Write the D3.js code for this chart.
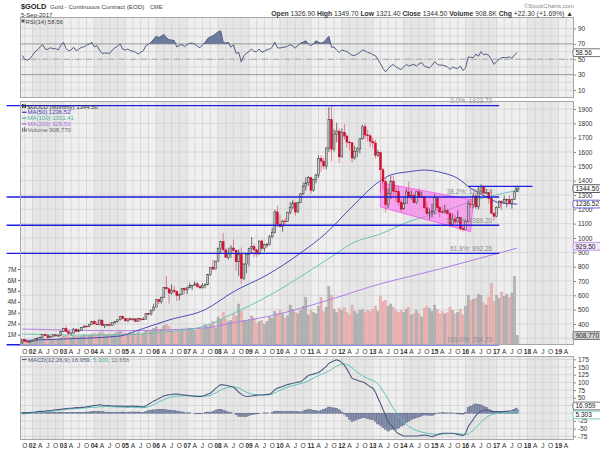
<!DOCTYPE html>
<html><head><meta charset="utf-8">
<script src="https://cdn.jsdelivr.net/npm/d3@7/dist/d3.min.js"></script>
<style>
body{margin:0;background:#fff}
svg{display:block;font-family:"Liberation Sans",Arial,sans-serif}
</style></head><body>
<svg id="chart" width="600" height="450"></svg>
<script>
// ---------------- DATA (monthly, Sep 2001 .. Sep 2017) ----------------
const firstMonth = "2001-09";
const opens = [274,293,279,275,
279,282,296,302,308,326,318,304,312,324,317,319,
348,368,347,335,337,364,346,354,375,385,384,398,
417,400,397,427,388,395,395,391,409,418,429,453,
438,422,436,429,436,417,437,430,434,473,470,496,
518,569,556,585,654,645,616,634,626,599,606,648,
638,652,669,669,680,660,652,668,673,747,795,783,
838,928,975,917,865,889,930,913,834,884,718,818,
884,928,942,917,888,979,927,955,955,1008,1040,1182,
1097,1081,1118,1115,1180,1212,1245,1181,1248,1308,1359,1385,
1421,1333,1410,1439,1556,1536,1502,1628,1825,1620,1725,1746,
1566,1738,1711,1669,1664,1558,1604,1622,1692,1776,1719,1713,
1675,1663,1578,1596,1476,1393,1234,1312,1396,1327,1323,1250,
1202,1240,1321,1284,1295,1246,1322,1282,1287,1210,1171,1175,
1184,1279,1212,1183,1182,1190,1172,1095,1132,1115,1142,1065,
1061,1116,1238,1234,1293,1217,1322,1357,1313,1316,1276,1173,
1152,1212,1253,1249,1268,1268,1242,1270,1322];
const highs = [294,294,285,281,
284,302,305,310,328,331,321,318,326,325,322,349,
373,390,352,343,373,368,367,378,391,391,400,418,
428,418,432,430,396,398,410,412,420,431,456,457,
441,438,447,438,437,444,438,449,476,478,499,541,
571,574,590,658,732,654,677,665,634,614,651,654,
660,689,672,697,693,672,685,683,749,795,848,842,
934,978,1033,929,932,950,990,919,920,934,825,890,
932,1007,962,925,982,990,961,966,1022,1070,1196,1227,
1163,1127,1139,1181,1249,1266,1246,1253,1314,1388,1424,1432,
1424,1413,1448,1576,1577,1561,1632,1912,1923.7,1761,1804,1764,
1764,1792,1724,1677,1668,1642,1633,1696,1790,1798,1755,1726,
1698,1685,1616,1604,1488,1424,1348,1434,1434,1362,1362,1267,
1280,1346,1392,1332,1315,1327,1345,1323,1288,1255,1205,1239,
1307,1283,1224,1224,1232,1205,1175,1170,1159,1192,1145,1088,
1128,1263,1287,1306,1305,1362,1375,1367,1345,1320,1338,1181,
1220,1264,1264,1297,1274,1297,1274,1331,1349.7];
const lows = [254.7,277,272,271,
277,280,288,299,306,316,302,302,311,311,315,316,
347,343,324,319,334,342,342,353,371,370,378,396,
400,392,392,386,371,384,387,390,398,410,424,432,
416,411,425,422,414,414,418,430,433,461,459,489,
517,539,541,585,640,543,605,613,560,566,604,612,
608,650,636,669,653,642,648,648,672,735,779,783,
837,888,906,860,850,860,905,772,735,681,705,752,
802,895,865,866,884,911,904,933,948,1000,1033,1075,
1075,1044,1086,1113,1163,1201,1157,1176,1243,1300,1330,1362,
1308,1323,1381,1419,1462,1478,1478,1600,1535,1603,1668,1523,
1562,1687,1627,1611,1527,1547,1564,1590,1687,1692,1673,1635,
1626,1555,1565,1321,1338,1180,1208,1271,1292,1251,1227,1180,
1202,1238,1277,1269,1241,1240,1281,1280,1205,1161,1131,1142,
1167,1190,1142,1170,1170,1162,1077,1084,1098,1106,1052,1046,
1061,1110,1209,1207,1200,1200,1310,1306,1306,1241,1171,1122,
1146,1208,1195,1246,1214,1236,1204,1268,1321.4];
const closes = [293,279,275,279,
282,296,302,308,326,318,304,312,324,317,319,348,
368,347,335,337,364,346,354,375,385,384,398,417,
400,397,427,388,395,395,391,409,418,429,453,438,
422,436,429,436,417,437,430,434,473,470,496,518,
569,556,585,654,645,616,634,626,599,606,648,638,
652,669,669,680,660,652,668,673,747,795,783,838,
928,975,917,865,889,930,913,834,884,718,818,884,
928,942,917,888,979,927,955,955,1008,1040,1182,1097,
1081,1118,1115,1180,1212,1245,1181,1248,1308,1359,1385,1421,
1333,1410,1439,1556,1536,1502,1628,1825,1620,1725,1746,1566,
1738,1711,1669,1664,1558,1604,1622,1692,1776,1719,1713,1675,
1663,1578,1596,1476,1393,1234,1312,1396,1327,1323,1250,1202,
1240,1321,1284,1295,1246,1322,1282,1287,1210,1171,1175,1184,
1279,1212,1183,1182,1190,1172,1095,1132,1115,1142,1065,1061,
1116,1238,1234,1293,1217,1322,1357,1313,1316,1276,1173,1152,
1212,1253,1249,1268,1268,1242,1270,1322,1344.5];
// volume in millions
const volumes = [0.45,0.40,0.38,0.35,
0.45,0.55,0.50,0.55,0.70,0.60,0.65,0.55,0.60,0.50,0.55,0.70,
0.85,0.95,0.80,0.75,0.90,0.85,0.80,0.85,1.00,0.95,0.90,1.05,
1.10,1.00,1.15,1.25,1.00,0.95,1.05,1.00,1.10,1.20,1.30,1.15,
1.10,1.05,1.20,1.15,1.10,1.25,1.05,1.15,1.40,1.30,1.35,1.55,
1.70,1.45,1.50,1.80,1.95,1.75,1.40,1.30,1.45,1.25,1.50,1.35,
1.45,1.60,1.50,1.40,1.55,1.65,1.50,1.90,1.70,1.85,2.20,1.60,
2.60,2.40,3.00,2.40,2.20,2.30,2.90,2.70,3.80,3.10,2.30,2.20,
2.40,2.70,2.50,2.00,2.20,2.30,1.90,2.20,2.60,2.50,3.10,2.90,
3.20,2.90,2.50,2.70,3.70,3.30,3.00,2.90,3.20,3.60,4.40,2.80,
3.20,3.00,2.90,3.60,4.40,3.10,3.50,5.40,4.60,3.30,3.00,3.40,
3.20,3.50,3.00,2.80,3.70,3.10,2.90,3.20,3.30,3.00,3.20,3.10,
3.30,3.60,3.10,4.50,4.00,4.10,3.60,3.80,3.50,3.20,3.00,3.20,
3.00,3.30,3.50,2.80,2.90,3.20,2.90,2.60,3.40,3.60,3.40,3.10,
3.70,3.30,2.90,3.10,2.90,3.00,3.50,3.20,2.90,3.00,3.30,2.80,
3.60,4.60,4.10,4.20,4.30,4.70,4.60,3.90,3.70,4.40,5.70,4.00,
4.60,4.30,4.90,4.50,4.70,4.40,4.80,6.30,0.91];
const rsi = [55,50,48.7,50.5,
55,60,62,66,69,63,63,65,63.5,64,62,68,
72,64,61,62,65.6,61,63,65.6,66,68.5,69.5,72,
66,68,62,57.6,58,58,57.6,62,65,67,70,63,
62,63.3,61,60.5,59,56.7,59,61,67.8,69.5,72,76,
80,78,80,82.4,78,75.3,75,74.4,66,68,69,66.4,
69,70.9,70.9,69.5,67,65,68.7,72,77,79,80.5,83,
85.6,86.9,72,71,72,65.6,69,57.6,58.9,46.4,54.4,58,
60.2,63.3,60,60,63.3,59,60.5,62.5,63.3,65.6,72.2,65,
64.5,65.6,65.6,67,69,67,64.7,68,70.9,72.2,74,70,
67.8,70,74,72,70.9,72.2,76,79.8,65.6,66,62,58.9,
62,61,60,57.6,55,55,56.7,58.9,62,61,58.9,58,
56,54.4,50,44.2,38,33.6,38,41.1,43.3,40,38,36.7,
40,43.3,41.1,42.5,43.3,41.1,44,45.6,41.1,39.8,38.9,42,
46.9,43.5,42.4,42.4,41.5,40,36.7,39.8,38.5,38,41.1,35.3,
38.9,53.1,52.5,52.2,56.7,54,59.8,55.8,56.7,55,50,43.3,
47,50,52.2,52.2,52.2,53.1,51.1,55.8,58.56];
const macd = [0,1,1,2,
3,4,5,6,6,7,8,9,10,11,12,13,
14,15,16,16,17,18,18,19,19,21,22,24,
25,26,27,26,25,25,24,24,23,23,23,23,
22,22,23,23,22,22,21,21,24,29,34,39,
43,48,52,56,58,60,61,62,62,61,60,59,
58,57,56,55,54,54,55,58,62,65,72,80,
87,92,92,91,89,87,84,77,68,62,57,54,
55,56,57,58,59,59,60,61,62,68,76,81,
84,87,90,93,95,97,99,101,102,108,115,122,
125,127,130,132,138,145,152,162,166,170,173,170,
164,155,143,128,113,110,107,104,102,98,92,86,
81,68,50,32,12,-8,-28,-38,-47,-60,-66,-70,
-74,-74,-74,-74,-74,-74,-73,-72,-71,-72,-74,-76,
-73,-70,-67,-65,-65,-65,-65,-65,-67,-69,-71,-72,
-65,-44,-32,-20,-8,0,6,9,10,8,6,5,
5,5,5,6,6,7,8,12,16.959];
const signal = [-3,-2,-1,0,
1,2,3,3,4,4,5,6,7,8,9,10,
11,12,13,14,14,15,16,16,17,17,18,19,
19,20,21,21,21,22,22,21,21,20,20,19,
19,19,19,19,18,18,18,18,19,21,24,28,
32,36,40,44,47,50,53,54,55,56,56,57,
57,56,56,56,56,56,56,56,56,58,62,66,
70,75,79,82,84,85,85,84,82,78,73,68,
65,62,61,60,60,60,59,59,60,62,66,70,
74,78,82,85,87,89,92,94,96,98,101,105,
110,114,118,122,126,129,133,137,142,148,153,157,
159,160,158,154,148,140,133,127,122,117,113,110,
106,102,95,85,72,59,45,30,15,5,-8,-18,
-28,-36,-43,-48,-53,-56,-59,-61,-63,-65,-66,-67,
-68,-69,-69,-68,-67,-66,-66,-66,-66,-66,-67,-68,
-69,-68,-62,-55,-47,-38,-29,-21,-14,-9,-5,-3,
-1,0,1,2,2,3,3,4,4,5.303];
const histogram = [3,3,2,2,
2,2,2,3,2,3,3,3,3,3,3,3,
3,3,3,2,3,3,2,3,2,4,4,5,
6,6,6,5,4,3,2,3,2,3,3,4,
3,3,4,4,4,4,3,3,5,8,10,11,
11,12,12,12,11,10,8,8,7,5,4,2,
1,1,0,-1,-2,-2,-1,2,4,3,6,10,
12,13,10,7,4,2,0,-5,-10,-11,-11,-11,
-7,-5,-3,-2,-1,0,1,1,0,2,6,7,
6,5,5,6,6,5,5,5,4,7,10,12,
11,9,8,6,9,12,15,20,18,17,16,11,
4,-3,-11,-20,-27,-23,-20,-18,-15,-15,-18,-20,
-21,-27,-35,-40,-47,-53,-58,-53,-52,-52,-48,-42,
-38,-31,-26,-21,-18,-15,-12,-9,-6,-6,-7,-8,
-4,-1,1,2,1,1,1,1,-1,-2,-3,-3,
3,18,23,27,30,29,27,23,19,13,9,6,
5,4,3,4,3,4,4,8,11.656];
// moving averages read at sample months
const ma50Dates = ["2001-09","2003-01","2004-11","2005-05","2006-06","2007-08","2008-07","2009-08","2010-09","2011-07","2012-05","2013-04","2013-08","2014-03","2014-09","2015-04","2015-10","2016-03","2016-09","2017-02","2017-09"];
const ma50Vals  = [285,295,316,350,428,500,625,742,895,1035,1218,1400,1440,1462,1474,1455,1416,1347,1288,1246,1236.52];
const ma100Dates = ["2001-09","2003-09","2005-03","2006-05","2007-08","2008-07","2009-08","2010-09","2011-10","2012-05","2013-04","2014-03","2015-04","2016-05","2017-09"];
const ma100Vals  = [330,322,326,345,385,474,590,730,881,963,1028,1114,1184,1265,1331.41];
const ma200Dates = ["2001-09","2004-11","2007-08","2008-07","2009-08","2010-09","2011-10","2013-04","2014-03","2015-04","2016-05","2017-09"];
const ma200Vals  = [365,353,372,409,451,509,579,680,730,788,851,929.5];
// Fibonacci retracement levels (drawn Mar 2001 .. Feb 2017)
const fibPct = ["0.0%","38.2%","50.0%","61.8%","100.0%"];
const fibVals = [1923.70,1286.14,1089.20,892.26,254.70];
const fibRange = ["2001-03","2017-02"];
// resistance line and channel annotation
const resistRange = ["2016-02","2018-03"]; const resistVal = 1360;
const channelDates = ["2013-04","2016-04","2016-03","2013-04"];
const channelVals = [1386,1265,1044,1216];
// axes (labels hidden behind the value boxes are left out)
const priceTicks = d3.range(300,2000,100);
const priceLabels = d3.range(400,2000,100);
const volTicks = [1,2,3,4,5,6,7];
const rsiTicks = [10,30,50,70,90];
const macdTicks = [-75,-50,-25,0,25,50,75,100,125,150,175];
const macdLabels = [-75,-50,-25,50,75,100,125,150,175];

// ---------------- DRAWING ----------------
const svg = d3.select("#chart");
const L = 20, R = 574;
const P = {rsi:{t:17,b:98}, main:{t:101,b:345}, macd:{t:356,b:440}};
const parse = d3.timeParse("%Y-%m");
const m0 = parse(firstMonth);
const N = Math.min(opens.length, highs.length, lows.length, closes.length, volumes.length);
const dates = d3.range(N).map(i => d3.timeMonth.offset(m0, i));
const x = d3.scaleTime().domain([new Date(2002,0,1), new Date(2019,0,1)]).range([32.5, 558.4]);
const yP = d3.scaleLinear().domain([300,1900]).range([338.3,109]);
const yV = d3.scaleLinear().domain([0,7]).range([345.5,269]);
const yR = d3.scaleLinear().domain([10,90]).range([90,28.5]);
const yM = d3.scaleLinear().domain([-75,175]).range([436.3,359.3]);

const defs = svg.append("defs");
Object.entries(P).forEach(([k,p]) => {
  defs.append("clipPath").attr("id","clip-"+k).append("rect")
    .attr("x",L).attr("y",p.t).attr("width",R-L).attr("height",p.b-p.t);
});

const qTicks = d3.timeMonth.range(new Date(2001,9,1), new Date(2019,4,2), 3);
const bandYears = d3.range(2001, 2020);

function panelBase(k){
  const p = P[k];
  const g = svg.append("g").attr("clip-path",`url(#clip-${k})`);
  g.append("rect").attr("x",L).attr("y",p.t).attr("width",R-L).attr("height",p.b-p.t).attr("fill","#efefef");
  g.selectAll("rect.band").data(bandYears.filter(y => y%2===0)).join("rect")
    .attr("x", y => x(new Date(y,0,1))).attr("width", y => x(new Date(y+1,0,1)) - x(new Date(y,0,1)))
    .attr("y",p.t).attr("height",p.b-p.t).attr("fill","#e6e6e6");
  g.selectAll("line.v").data(qTicks).join("line")
    .attr("x1",d=>x(d)).attr("x2",d=>x(d)).attr("y1",p.t).attr("y2",p.b)
    .attr("stroke","#d2d2d2").attr("stroke-width",0.8);
  return g;
}
function panelBorder(k){
  const p = P[k];
  svg.append("rect").attr("x",L+0.5).attr("y",p.t+0.5).attr("width",R-L-1).attr("height",p.b-p.t-1)
    .attr("fill","none").attr("stroke","#a8a8a8").attr("stroke-width",1);
}
function hgrid(g, ticks, scale){
  g.selectAll(null).data(ticks).join("line")
    .attr("x1",L).attr("x2",R).attr("y1",d=>scale(d)).attr("y2",d=>scale(d))
    .attr("stroke","#d2d2d2").attr("stroke-width",0.8);
}
function rightAxis(scale, ticks, labels){
  const a = svg.append("g").attr("transform",`translate(${R},0)`)
    .call(d3.axisRight(scale).tickValues(ticks).tickFormat(d => labels.includes(d) ? d : "").tickSize(2).tickPadding(2));
  a.select(".domain").remove();
  a.selectAll("line").attr("stroke","#888");
  a.selectAll("text").attr("font-size",6.5).attr("fill","#333").attr("font-family","Liberation Sans, Arial, sans-serif");
}
function valueBox(yv, txt, stroke, fill, color){
  const g = svg.append("g");
  g.append("rect").attr("x",R-1).attr("y",yv-3.9).attr("width",28).attr("height",7.8).attr("rx",2)
    .attr("fill",fill).attr("stroke",stroke).attr("stroke-width",0.8);
  g.append("text").attr("x",R+1.5).attr("y",yv+2.3).attr("font-size",6.5).attr("fill",color).text(txt);
}

// ---------- RSI panel ----------
{
  const g = panelBase("rsi");
  g.selectAll(null).data(d3.range(10,100,10)).join("line")
    .attr("x1",L).attr("x2",R).attr("y1",d=>yR(d)).attr("y2",d=>yR(d))
    .attr("stroke",d => (d===70||d===30) ? "#9a9a9a" : "#d2d2d2")
    .attr("stroke-width",d => (d===70||d===30) ? 1 : 0.8);
  g.append("line").attr("x1",L).attr("x2",R).attr("y1",yR(50)).attr("y2",yR(50))
    .attr("stroke","#9a9a9a").attr("stroke-dasharray","6,2,1,2").attr("stroke-width",0.8);
  const rd = d3.range(Math.min(N, rsi.length)).map(i => ({d:dates[i], v:rsi[i]}));
  defs.append("clipPath").attr("id","above70").append("rect")
    .attr("x",L).attr("y",P.rsi.t).attr("width",R-L).attr("height",yR(70)-P.rsi.t);
  g.append("path").datum(rd).attr("clip-path","url(#above70)")
    .attr("d", d3.area().x(d=>x(d.d)).y0(yR(70)).y1(d=>yR(d.v)))
    .attr("fill","#6d7b9c");
  g.append("path").datum(rd).attr("d", d3.line().x(d=>x(d.d)).y(d=>yR(d.v)))
    .attr("fill","none").attr("stroke","#4f5d82").attr("stroke-width",1);
  panelBorder("rsi");
  rightAxis(yR, rsiTicks, rsiTicks);
  valueBox(yR(rsi[rsi.length-1]), "58.56", "#555", "#fff", "#222");
  const lg = svg.append("g").attr("font-size",6).attr("fill","#444");
  lg.append("rect").attr("x",21.5).attr("y",19.5).attr("width",3).attr("height",3).attr("fill","#4f5d82");
  lg.append("text").attr("x",25.5).attr("y",23.5).text("RSI(14) 58.56");
}

// ---------- Main panel ----------
{
  const g = panelBase("main");
  hgrid(g, priceTicks, yP);
  const vd = d3.range(N).map(i => ({d:dates[i], v:volumes[i], up: i===0 ? true : closes[i] >= closes[i-1]}));
  g.selectAll("rect.vol").data(vd).join("rect")
    .attr("x",d=>x(d.d)-1.05).attr("width",2.1)
    .attr("y",d=>yV(d.v)).attr("height",d=>yV(0)-yV(d.v))
    .attr("fill",d=>d.up ? "#b4b4b4" : "#eeb4b4")
    .attr("stroke",d=>d.up ? "#9a9a9a" : "#d99a9a").attr("stroke-width",0.4);
  const fx0 = x(parse(fibRange[0])), fx1 = x(parse(fibRange[1]));
  const maLine = d3.line().x(d=>x(d.d)).y(d=>yP(d.v)).curve(d3.curveMonotoneX);
  const mk = (ds, vs) => ds.map((s,i)=>({d:parse(s), v:vs[i]}));
  g.append("path").datum(mk(ma200Dates, ma200Vals)).attr("d",maLine).attr("fill","none").attr("stroke","#b27ee6").attr("stroke-width",1);
  g.append("path").datum(mk(ma100Dates, ma100Vals)).attr("d",maLine).attr("fill","none").attr("stroke","#6cc3b2").attr("stroke-width",1);
  g.append("path").datum(mk(ma50Dates, ma50Vals)).attr("d",maLine).attr("fill","none").attr("stroke","#4a4ab8").attr("stroke-width",1);
  g.append("path").datum(channelDates.map((s,i)=>[x(parse(s)), yP(channelVals[i])]))
    .attr("d", d => "M" + d.join("L") + "Z")
    .attr("fill","#ff66ee").attr("fill-opacity",0.55).attr("stroke","#ee55ee").attr("stroke-width",0.8);
  svg.append("g").selectAll("text").data(fibVals).join("text")
    .attr("x", fx1 - 7).attr("y", d => yP(d) - 2.5).attr("text-anchor","end")
    .attr("font-size",6.5).attr("fill","#8a8a8a")
    .text((d,i)=>`${fibPct[i]}: ${d.toFixed(2)}`);
  const cd = d3.range(N).map(i => ({d:dates[i], o:opens[i], h:highs[i], l:lows[i], c:closes[i]}));
  const cg = g.append("g");
  cg.selectAll("line").data(cd).join("line")
    .attr("x1",d=>x(d.d)).attr("x2",d=>x(d.d)).attr("y1",d=>yP(d.h)).attr("y2",d=>yP(d.l))
    .attr("stroke",d=>d.c>=d.o ? "#333" : "#e0506e").attr("stroke-width",0.7);
  cg.selectAll("rect").data(cd).join("rect")
    .attr("x",d=>x(d.d)-0.95).attr("width",1.9)
    .attr("y",d=>yP(Math.max(d.o,d.c))).attr("height",d=>Math.max(0.7, Math.abs(yP(d.o)-yP(d.c))))
    .attr("fill",d=>d.c>=d.o ? "#c6c6c6" : "#d8102e")
    .attr("stroke",d=>d.c>=d.o ? "#333" : "#c00828").attr("stroke-width",0.5);
  const last = cd[N-1];
  g.append("circle").attr("cx",x(last.d)).attr("cy",yP(last.c)).attr("r",2)
    .attr("fill","none").attr("stroke","#555").attr("stroke-width",0.7);
  svg.append("g").selectAll("line").data(fibVals).join("line")
    .attr("x1",fx0).attr("x2",fx1).attr("y1",d=>yP(d)).attr("y2",d=>yP(d))
    .attr("stroke","#1c1cdc").attr("stroke-width",1.4);
  g.append("line").attr("x1",x(parse(resistRange[0]))).attr("x2",x(parse(resistRange[1])))
    .attr("y1",yP(resistVal)).attr("y2",yP(resistVal)).attr("stroke","#1c1cdc").attr("stroke-width",1.4);
  panelBorder("main");
  rightAxis(yP, priceTicks, priceLabels);
  const la = svg.append("g").attr("transform",`translate(${L},0)`)
    .call(d3.axisLeft(yV).tickValues(volTicks).tickFormat(d=>d+"M").tickSize(2).tickPadding(1.5));
  la.select(".domain").remove();
  la.selectAll("line").attr("stroke","#666");
  la.selectAll("text").attr("font-size",6.5).attr("fill","#333").attr("font-family","Liberation Sans, Arial, sans-serif");
  valueBox(yP(closes[N-1]), "1344.50", "#333", "#fff", "#111");
  valueBox(yP(ma50Vals[ma50Vals.length-1]), "1236.52", "#3a3ad0", "#fff", "#222");
  valueBox(yP(ma200Vals[ma200Vals.length-1]) - 1.8, "929.50", "#b27ee6", "#f3e8ff", "#222");
  valueBox(yV(volumes[N-1]), "908,770", "#555", "#d4d4d4", "#222");
  const lg = svg.append("g").attr("font-size",6);
  const items = [
    {t:"$GOLD (Monthly) 1344.50", c:"#333", icon:"candle"},
    {t:"MA(50) 1236.52", c:"#3a3ab0", icon:"line"},
    {t:"MA(100) 1331.41", c:"#4fb3a0", icon:"line"},
    {t:"MA(200) 929.50", c:"#a070d8", icon:"line"},
    {t:"Volume 908,770", c:"#666", icon:"bar"}];
  items.forEach((it,i) => {
    const yy = 106.5 + i*5.8;
    if (it.icon==="line") lg.append("line").attr("x1",22).attr("x2",26.5).attr("y1",yy).attr("y2",yy).attr("stroke",it.c).attr("stroke-width",1.2);
    else if (it.icon==="candle") { lg.append("rect").attr("x",22).attr("y",yy-2.5).attr("width",1.5).attr("height",4).attr("fill","#333"); lg.append("rect").attr("x",24.5).attr("y",yy-2).attr("width",1.5).attr("height",3.5).attr("fill","#333"); }
    else { lg.append("rect").attr("x",22).attr("y",yy-1.5).attr("width",1.2).attr("height",3.5).attr("fill","#777"); lg.append("rect").attr("x",23.8).attr("y",yy-2.5).attr("width",1.2).attr("height",4.5).attr("fill","#777"); lg.append("rect").attr("x",25.6).attr("y",yy-1).attr("width",1.2).attr("height",3).attr("fill","#777"); }
    lg.append("text").attr("x",27.5).attr("y",yy+2.1).attr("fill",it.c).text(it.t);
  });
}

// ---------- MACD panel ----------
{
  const g = panelBase("macd");
  hgrid(g, macdTicks, yM);
  const n = Math.min(N, macd.length, signal.length, histogram.length);
  const hd = d3.range(n).map(i => ({d:dates[i], v:histogram[i]}));
  g.selectAll("rect.h").data(hd).join("rect")
    .attr("x",d=>x(d.d)-1.1).attr("width",2.2)
    .attr("y",d=>Math.min(yM(0), yM(d.v))).attr("height",d=>Math.abs(yM(d.v)-yM(0)))
    .attr("fill","#8a93ae").attr("stroke","#4f5d82").attr("stroke-width",0.45);
  const ln = d3.line().x(d=>x(d.d)).y(d=>yM(d.v)).curve(d3.curveMonotoneX);
  g.append("path").datum(d3.range(n).map(i=>({d:dates[i], v:signal[i]}))).attr("d",ln)
    .attr("fill","none").attr("stroke","#5cc4b4").attr("stroke-width",1);
  g.append("path").datum(d3.range(n).map(i=>({d:dates[i], v:macd[i]}))).attr("d",ln)
    .attr("fill","none").attr("stroke","#4f5d82").attr("stroke-width",1.1);
  panelBorder("macd");
  rightAxis(yM, macdTicks, macdLabels);
  valueBox(yM(macd[n-1])-2, "16.959", "#555", "#fff", "#222");
  valueBox(yM(signal[n-1])+3, "5.303", "#5cc4b4", "#fff", "#222");
  const lg = svg.append("g").attr("font-size",6);
  lg.append("line").attr("x1",22).attr("x2",26.5).attr("y1",359.5).attr("y2",359.5).attr("stroke","#4f5d82").attr("stroke-width",1.2);
  const t = lg.append("text").attr("x",28).attr("y",361.6);
  t.append("tspan").attr("fill","#4f5d82").text("MACD(12,26,9) 16.959, ");
  t.append("tspan").attr("fill","#4fb3a0").text("5.303, ");
  t.append("tspan").attr("fill","#777").text("11.656");
}

// ---------- Date axes ----------
const monthLetter = {3:"A",6:"J",9:"O"};
[353.8, 447.6].forEach(yy => {
  svg.append("g").selectAll("text").data(qTicks).join("text")
    .attr("x",d=>x(d)).attr("y",yy).attr("text-anchor","middle")
    .attr("font-size",6.6).attr("fill","#333")
    .attr("font-weight",d=>d.getMonth()===0 ? "bold" : "normal")
    .text(d => d.getMonth()===0 ? d3.timeFormat("%y")(d) : monthLetter[d.getMonth()]);
});

// ---------- Header ----------
svg.append("text").attr("x",21).attr("y",9).attr("font-size",7.4).attr("font-weight","bold").attr("fill","#222").text("$GOLD");
svg.append("text").attr("x",50).attr("y",8.8).attr("font-size",6.2).attr("fill","#444").text("Gold - Continuous Contract (EOD)");
svg.append("text").attr("x",150).attr("y",8.8).attr("font-size",5.6).attr("fill","#444").text("CME");
svg.append("text").attr("x",21).attr("y",16.6).attr("font-size",6).attr("fill","#333").text("5-Sep-2017");
svg.append("text").attr("x",R).attr("y",7.5).attr("text-anchor","end").attr("font-size",6).attr("fill","#888").text("©StockCharts.com");
{
  const t = svg.append("text").attr("x",R-1).attr("y",16).attr("text-anchor","end").attr("font-size",6.8).attr("fill","#333");
  const parts = [["Open"," 1326.90 "],["High"," 1349.70 "],["Low"," 1321.40 "],["Close"," 1344.50 "],["Volume"," 908.8K "],["Chg"," +22.30 (+1.69%) ▲"]];
  parts.forEach(([k,v]) => { t.append("tspan").attr("font-weight","bold").text(k); t.append("tspan").text(v); });
}
</script>
</body></html>
